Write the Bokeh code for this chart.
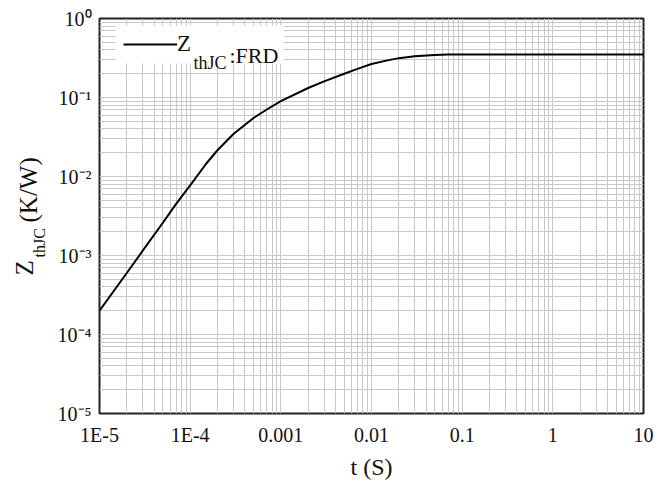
from math import pi
from bokeh.plotting import figure
from bokeh.models import (FixedTicker, CustomJSTickFormatter, Label, Legend,
                          LegendItem, Range1d, BoxAnnotation)
from bokeh.embed import file_html
from bokeh.resources import INLINE

# ---- data ----
t_s = [1e-5, 2e-5, 3e-5, 5e-5, 7e-5, 1e-4, 1.5e-4, 2e-4, 3e-4, 5e-4, 7e-4,
       1e-3, 2e-3, 3e-3, 5e-3, 7e-3, 1e-2, 1.5e-2, 2e-2, 3e-2, 5e-2, 7e-2,
       0.1, 1, 10]
zth_frd = [2.0e-4, 6.0e-4, 1.15e-3, 2.6e-3, 4.5e-3, 7.7e-3, 0.0145, 0.0215,
           0.0345, 0.055, 0.0705, 0.090, 0.132, 0.160, 0.200, 0.230, 0.265,
           0.295, 0.315, 0.333, 0.345, 0.349, 0.350, 0.350, 0.350]

x_decades = [-5, -4, -3, -2, -1, 0, 1]
x_tick_labels = ["1E-5", "1E-4", "0.001", "0.01", "0.1", "1", "10"]
y_decades = [-5, -4, -3, -2, -1, 0]
y_tick_labels = ["10\u207b\u2075", "10\u207b\u2074", "10\u207b\u00b3",
                 "10\u207b\u00b2", "10\u207b\u00b9", "10\u2070"]
minor_mult = [2, 3, 4, 5, 6, 7, 8, 9]

FONT = "Liberation Serif"
GRID = "#c8c8c8"
INK = "#111111"

p = figure(x_axis_type="log", y_axis_type="log",
           x_range=Range1d(1e-5, 10), y_range=Range1d(1e-5, 1),
           frame_width=544, frame_height=395,
           min_border_left=99, min_border_right=22,
           min_border_top=18, min_border_bottom=72,
           output_backend="svg", toolbar_location=None)
p.background_fill_color = "white"
p.border_fill_color = "white"
p.outline_line_color = "#222222"
p.outline_line_width = 2

x_major = [10.0 ** d for d in x_decades]
x_minor = [m * 10.0 ** d for d in x_decades[:-1] for m in minor_mult]
y_major = [10.0 ** d for d in y_decades]
y_minor = [m * 10.0 ** d for d in y_decades[:-1] for m in minor_mult]

p.xaxis.ticker = FixedTicker(ticks=x_major, minor_ticks=x_minor)
p.yaxis.ticker = FixedTicker(ticks=y_major, minor_ticks=y_minor)

p.xaxis.formatter = CustomJSTickFormatter(
    args=dict(labels=x_tick_labels, e0=x_decades[0]),
    code="return labels[Math.round(Math.log10(tick)) - e0];")
p.yaxis.formatter = CustomJSTickFormatter(
    args=dict(labels=y_tick_labels, e0=y_decades[0]),
    code="return labels[Math.round(Math.log10(tick)) - e0];")

for ax in (p.xaxis, p.yaxis):
    ax.axis_line_color = None
    ax.major_tick_line_color = None
    ax.minor_tick_line_color = None
    ax.major_tick_out = 0
    ax.minor_tick_out = 0
    ax.major_label_text_font = FONT
    ax.major_label_text_font_size = "20px"
    ax.major_label_text_color = INK

p.xaxis.major_label_standoff = 10
p.yaxis.major_label_standoff = 8
p.xaxis.axis_label = "t (S)"
p.xaxis.axis_label_text_font = FONT
p.xaxis.axis_label_text_font_size = "24px"
p.xaxis.axis_label_text_font_style = "normal"
p.xaxis.axis_label_text_color = INK
p.xaxis.axis_label_standoff = 5

for g in (p.xgrid, p.ygrid):
    g.grid_line_color = GRID
    g.grid_line_width = 1
    g.minor_grid_line_color = GRID
    g.minor_grid_line_width = 1

r = p.line(t_s, zth_frd, line_color="black", line_width=2)

# white legend panel
p.add_layout(BoxAnnotation(left=16, right=184, top=388, bottom=350,
                           left_units="screen", right_units="screen",
                           top_units="screen", bottom_units="screen",
                           fill_color="white", fill_alpha=1.0,
                           line_color=None))

p.add_layout(Label(x=130, y=358, x_units="screen", y_units="screen",
                   text=":FRD", text_font=FONT, text_font_size="22px",
                   text_color=INK, text_baseline="alphabetic"))
p.add_layout(Label(x=94, y=351, x_units="screen", y_units="screen",
                   text="thJC", text_font=FONT, text_font_size="18px",
                   text_color=INK, text_baseline="alphabetic"))

legend = Legend(items=[LegendItem(label="Z", renderers=[r])],
                location=(18, 350), margin=0, padding=6,
                glyph_width=54, glyph_height=26, label_height=26,
                label_standoff=0,
                label_text_font=FONT, label_text_font_size="23px",
                label_text_color=INK,
                background_fill_alpha=0.0, border_line_alpha=0.0)
p.add_layout(legend)

# y axis title with subscript (side panels)
p.add_layout(Label(x=-3, y=138, x_units="screen", y_units="screen",
                   text="Z", angle=pi / 2, text_font=FONT,
                   text_font_size="25px", text_color=INK,
                   text_baseline="alphabetic", text_align="left"), "left")
p.add_layout(Label(x=28, y=191, x_units="screen", y_units="screen",
                   text="(K/W)", angle=pi / 2, text_font=FONT,
                   text_font_size="25px", text_color=INK,
                   text_baseline="alphabetic", text_align="left"), "left")
p.add_layout(Label(x=-604, y=156, x_units="screen", y_units="screen",
                   text="thJC", angle=pi / 2, text_font=FONT,
                   text_font_size="16px", text_color=INK,
                   text_baseline="alphabetic", text_align="left"), "right")

open("out.html", "w").write(file_html(p, INLINE))
